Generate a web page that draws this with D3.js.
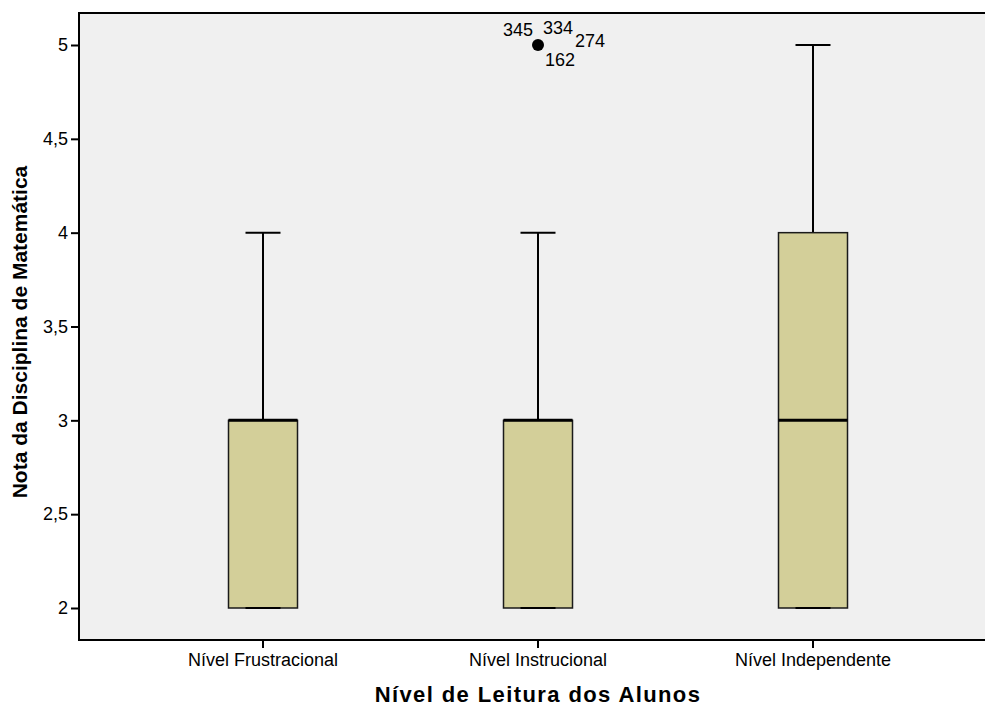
<!DOCTYPE html>
<html>
<head>
<meta charset="utf-8">
<script src="https://cdn.jsdelivr.net/npm/d3@7"></script>
<style>
  html, body { margin: 0; padding: 0; background: #ffffff; }
  svg { display: block; }
  text { font-family: "Liberation Sans", Arial, sans-serif; }
</style>
</head>
<body>
<svg id="chart" width="985" height="707"></svg>
<script>
// Reading level groups and their five-number summaries (math grade)
const categories = ["Nível Frustracional", "Nível Instrucional", "Nível Independente"];
const whiskerLow = [2, 2, 2];
const q1 = [2, 2, 2];
const medians = [3, 3, 3];
const q3 = [3, 3, 4];
const whiskerHigh = [4, 4, 5];

// Outliers: group index, value, case labels
const outliers = [
  { group: 1, value: 5, labels: ["345", "334", "274", "162"] }
];

const yTicks = [2, 2.5, 3, 3.5, 4, 4.5, 5];

const svg = d3.select("#chart");
const plotLeft = 79, plotTop = 13, plotBottom = 640, plotRight = 990;

const y = d3.scaleLinear()
  .domain([2 - 32 / 187.67, 5 + 32 / 187.67])
  .range([plotBottom, plotTop]);

const x = d3.scaleBand()
  .domain(categories)
  .range([125.5, 950.5])
  .paddingInner(0)
  .paddingOuter(0);

// Plot background
svg.append("rect")
  .attr("x", plotLeft).attr("y", plotTop)
  .attr("width", plotRight - plotLeft).attr("height", plotBottom - plotTop)
  .attr("fill", "#f0f0f0");

const boxW = 69, capW = 35;
const groups = categories.map((c, i) => ({
  cat: c, lo: whiskerLow[i], q1: q1[i], med: medians[i], q3: q3[i], hi: whiskerHigh[i]
}));

const g = svg.append("g").selectAll("g").data(groups).join("g")
  .attr("transform", d => `translate(${x(d.cat) + x.bandwidth() / 2},0)`);

// Upper whisker
g.append("line")
  .attr("x1", 0).attr("x2", 0)
  .attr("y1", d => y(d.q3)).attr("y2", d => y(d.hi))
  .attr("stroke", "#000").attr("stroke-width", 2);
g.append("line")
  .attr("x1", -capW / 2).attr("x2", capW / 2)
  .attr("y1", d => y(d.hi)).attr("y2", d => y(d.hi))
  .attr("stroke", "#000").attr("stroke-width", 2);

// Lower whisker
g.append("line")
  .attr("x1", 0).attr("x2", 0)
  .attr("y1", d => y(d.q1)).attr("y2", d => y(d.lo))
  .attr("stroke", "#000").attr("stroke-width", 2);

// Box
g.append("rect")
  .attr("x", -boxW / 2)
  .attr("y", d => y(d.q3))
  .attr("width", boxW)
  .attr("height", d => y(d.q1) - y(d.q3))
  .attr("fill", "#d3cf99")
  .attr("stroke", "#1a1a1a").attr("stroke-width", 1.5);

// Lower cap drawn over the box edge
g.append("line")
  .attr("x1", -capW / 2).attr("x2", capW / 2)
  .attr("y1", d => y(d.lo)).attr("y2", d => y(d.lo))
  .attr("stroke", "#000").attr("stroke-width", 2);

// Median
g.append("line")
  .attr("x1", -boxW / 2).attr("x2", boxW / 2)
  .attr("y1", d => y(d.med)).attr("y2", d => y(d.med))
  .attr("stroke", "#000").attr("stroke-width", 3);

// Outliers and their case labels (left edge, baseline relative to the point)
const labelOffsets = [[-35, -9], [5, -11], [37, 2], [7, 21]];
outliers.forEach(o => {
  const cx = x(categories[o.group]) + x.bandwidth() / 2;
  const cy = y(o.value);
  svg.append("circle")
    .attr("cx", cx).attr("cy", cy).attr("r", 6)
    .attr("fill", "#000");
  o.labels.forEach((lab, k) => {
    svg.append("text")
      .attr("x", cx + labelOffsets[k][0])
      .attr("y", cy + labelOffsets[k][1])
      .attr("font-size", 18)
      .attr("fill", "#000")
      .text(lab);
  });
});

// Frame: left, top and bottom edges
svg.append("line").attr("x1", plotLeft).attr("x2", plotLeft).attr("y1", plotTop).attr("y2", plotBottom)
  .attr("stroke", "#000").attr("stroke-width", 2);
svg.append("line").attr("x1", plotLeft - 1).attr("x2", plotRight).attr("y1", plotTop).attr("y2", plotTop)
  .attr("stroke", "#000").attr("stroke-width", 2);
svg.append("line").attr("x1", plotLeft - 1).attr("x2", plotRight).attr("y1", plotBottom).attr("y2", plotBottom)
  .attr("stroke", "#000").attr("stroke-width", 2);

// Y axis
const fmt = d => String(d).replace(".", ",");
const yAxis = svg.append("g")
  .attr("transform", `translate(${plotLeft},0)`)
  .call(d3.axisLeft(y).tickValues(yTicks).tickFormat(fmt).tickSize(8).tickPadding(3));
yAxis.select(".domain").remove();
yAxis.selectAll(".tick line").attr("stroke", "#000").attr("stroke-width", 2);
yAxis.selectAll(".tick text")
  .attr("font-size", 18).attr("fill", "#000")
  .attr("font-family", "'Liberation Sans', Arial, sans-serif");

// X axis
const xAxis = svg.append("g")
  .attr("transform", `translate(0,${plotBottom})`)
  .call(d3.axisBottom(x).tickSize(8).tickPadding(5));
xAxis.select(".domain").remove();
xAxis.selectAll(".tick line").attr("stroke", "#000").attr("stroke-width", 2);
xAxis.selectAll(".tick text")
  .attr("font-size", 18).attr("fill", "#000")
  .attr("font-family", "'Liberation Sans', Arial, sans-serif");

// Axis titles
svg.append("text")
  .attr("x", 538).attr("y", 702)
  .attr("text-anchor", "middle")
  .attr("font-size", 22).attr("font-weight", "bold")
  .attr("letter-spacing", 1.4)
  .text("Nível de Leitura dos Alunos");

svg.append("text")
  .attr("transform", "translate(27,332) rotate(-90)")
  .attr("text-anchor", "middle")
  .attr("font-size", 21).attr("font-weight", "bold")
  .text("Nota da Disciplina de Matemática");
</script>
</body>
</html>
